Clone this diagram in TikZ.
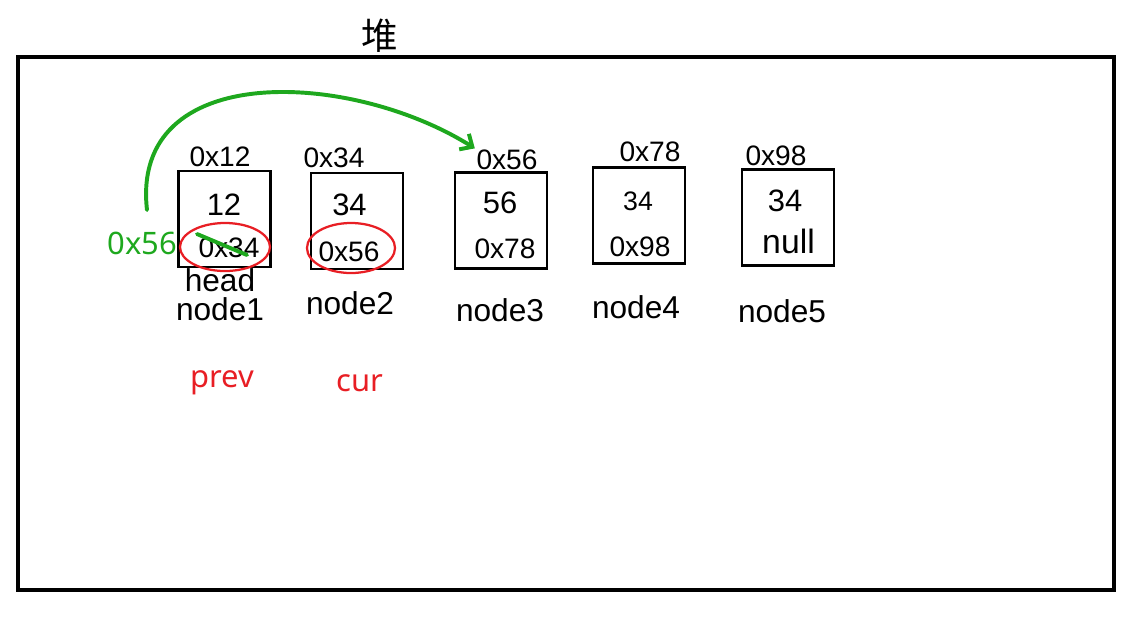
\documentclass[tikz,border=0pt]{standalone}
\usepackage{fontspec}
\setmainfont{Liberation Sans}
\newfontfamily\handfont{Noto Sans}
\newfontfamily\cjk{Noto Sans CJK SC}
\usetikzlibrary{shapes.geometric, arrows.meta}
\definecolor{penred}{RGB}{232,30,36}
\definecolor{pengreen}{RGB}{30,168,30}
\tikzstyle{cell} = [rectangle, minimum width=2.3cm, minimum height=2.4cm, draw=black, line width=1.6pt]
\tikzstyle{addr} = [inner sep=1pt, font=\fontsize{20}{20}\selectfont]
\tikzstyle{val} = [inner sep=1pt, font=\fontsize{22}{22}\selectfont]
\tikzstyle{tag} = [inner sep=1pt, font=\fontsize{22.5}{22.5}\selectfont]
\tikzstyle{ring} = [ellipse, draw=penred, line width=1.6pt, minimum width=2.25cm, minimum height=1.2cm]
\tikzstyle{note} = [inner sep=1pt, font=\handfont\fontsize{22}{22}\selectfont]
\tikzstyle{pen} = [draw=pengreen, line width=2.8pt, line cap=round]

\begin{document}
\begin{tikzpicture}[x=0.025cm, y=-0.025cm]
		\useasboundingbox (0,0) rectangle (1144,621);
		% heap
		\draw [line width=2.4pt] (18,57) rectangle (1114,590);
		\node (Heap)[inner sep=1pt, font=\cjk\fontsize{26}{26}\selectfont] at (380,36) {堆};
		% list nodes
		\node (Cell1)[cell] at (224.5,219) {};
		\node (Cell2)[cell] at (357,221) {};
		\node (Cell3)[cell] at (501,220.5) {};
		\node (Cell4)[cell] at (639,215.5) {};
		\node (Cell5)[cell] at (788,217.5) {};
		\node (Addr1)[addr] at (220,157) {0x12};
		\node (Addr2)[addr] at (334,157.5) {0x34};
		\node (Addr3)[addr] at (507,160) {0x56};
		\node (Addr4)[addr] at (650,152) {0x78};
		\node (Addr5)[addr] at (776,155.5) {0x98};
		\node (Data1)[val] at (224,205) {12};
		\node (Data2)[val] at (349.5,205) {34};
		\node (Data3)[val] at (500,202.5) {56};
		\node (Data4)[val, font=\fontsize{19}{19}\selectfont] at (638,201.5) {34};
		\node (Data5)[val] at (785,200.5) {34};
		\node (Next1)[addr] at (229,248) {0x34};
		\node (Next2)[addr] at (349,252) {0x56};
		\node (Next3)[addr] at (505,249) {0x78};
		\node (Next4)[addr] at (640,247) {0x98};
		\node (Next5)[val, font=\fontsize{24}{24}\selectfont] at (788.5,241.5) {null};
		\node (Head)[tag] at (220,280) {head};
		\node (Name1)[tag] at (220,309) {node1};
		\node (Name2)[tag] at (350,303) {node2};
		\node (Name3)[tag] at (500,310) {node3};
		\node (Name4)[tag] at (636,307) {node4};
		\node (Name5)[tag] at (782,311) {node5};
		% pointers
		\node (Ring1)[ring] at (225,247) {};
		\node (Ring2)[ring, minimum width=2.2cm, minimum height=1.25cm] at (351,248) {};
		\node (Prev)[note, text=penred] at (222,383) {prev};
		\node (Cur)[note, text=penred] at (360,383) {cur};
		\node (Ptr)[note, text=pengreen] at (142.5,243.5) {0x56};
		\coordinate (ArcStart) at (147,210);
		\draw [pen, -{Straight Barb[length=7pt, width=13pt]}] (ArcStart) .. controls (130,60) and (350,70) .. (Addr3.north west);
		\draw [pen] (197,234) -- (247,255);
	\end{tikzpicture}
\end{document}
